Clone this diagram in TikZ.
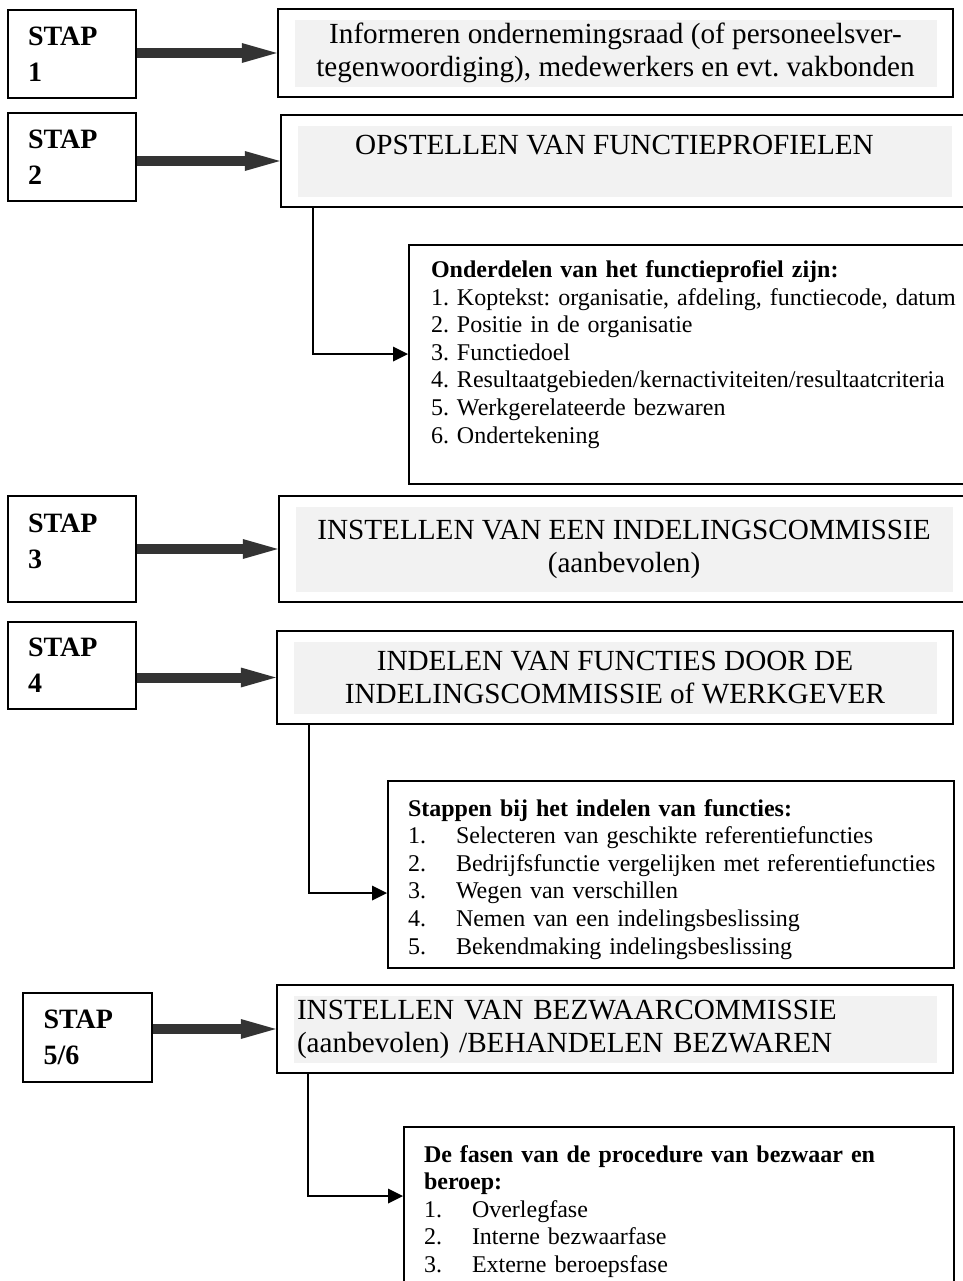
\documentclass[tikz,border=0pt]{standalone}
\usepackage{fontspec}
\setmainfont{Liberation Serif}
\usetikzlibrary{arrows.meta}
\definecolor{panel}{HTML}{F2F2F2}
\newcommand\punt[2]{\mbox{\makebox[24pt][l]{#1}#2}}
\frenchspacing

\begin{document}
\begin{tikzpicture}[x=0.5pt,y=-0.5pt,
  stap/.style={draw,line width=1pt,minimum width=64pt,text width=44pt,inner sep=0pt,
    align=left,font=\fontsize{14}{18}\selectfont\bfseries},
  fase/.style={draw,line width=1.2pt,inner sep=0pt,align=center,
    font=\fontsize{14.6}{16.5}\selectfont,
    path picture={\fill[panel] ([xshift=8.5pt,yshift=-5.5pt]path picture bounding box.north west)
      rectangle ([xshift=-8pt,yshift=5pt]path picture bounding box.south east);}},
  detail/.style={draw,line width=1pt,anchor=north west,align=left,
    inner ysep=9.25pt,text height=8.25pt,font=\fontsize{12}{13.8}\selectfont},
  push/.style={draw=black!80,line width=5pt,
    -{Triangle[length=17.5pt,width=10pt,line width=0pt]}},
  link/.style={draw,line width=1pt,-{Triangle[length=7.5pt,width=7.5pt,line width=0pt]}}
]
  \useasboundingbox (0,0) rectangle (963,1281);
  \clip (0,0) rectangle (963,1281);

  \node[stap,minimum height=44pt] (s1) at (72,54) {STAP\\1};
  \node[stap,minimum height=44pt] (s2) at (72,157) {STAP\\2};
  \node[stap,minimum height=53pt,text depth=26pt] (s3) at (72,549) {STAP\\3};
  \node[stap,minimum height=43.5pt] (s4) at (72,665.5) {STAP\\4};
  \node[stap,minimum width=64.5pt,minimum height=44.5pt] (s5) at (87.5,1037.5) {STAP\\5/6};

  \node[fase,minimum width=337.5pt,minimum height=44pt] (b1) at (615.5,53)
    {Informeren ondernemingsraad (of personeelsver-\\tegenwoordiging), medewerkers en evt. vakbonden};
  \node[fase,minimum width=343.5pt,minimum height=46pt] (b2) at (624.5,161)
    {\hspace*{-10pt}OPSTELLEN VAN FUNCTIEPROFIELEN\\~};
  \node[fase,minimum width=345pt,minimum height=53pt] (b3) at (624,549)
    {INSTELLEN VAN EEN INDELINGSCOMMISSIE\\(aanbevolen)};
  \node[fase,minimum width=338pt,minimum height=46.5pt] (b4) at (615,677.5)
    {INDELEN VAN FUNCTIES DOOR DE\\INDELINGSCOMMISSIE of WERKGEVER};
  \node[fase,minimum width=338pt,minimum height=44pt,text width=318pt,align=left] (b5) at (615,1029)
    {INSTELLEN VAN BEZWAARCOMMISSIE\\(aanbevolen) /BEHANDELEN BEZWAREN};

  \node[detail,inner xsep=11pt,inner ysep=8pt,text width=270pt,text depth=95.25pt] (d1) at (408,244)
    {\textbf{Onderdelen van het functieprofiel zijn:}\\
     1. Koptekst: organisatie, afdeling, functiecode, datum\\
     2. Positie in de organisatie\\
     3. Functiedoel\\
     4. Resultaatgebieden/kernactiviteiten/resultaatcriteria\\
     5. Werkgerelateerde bezwaren\\
     6. Ondertekening};
  \node[detail,inner xsep=10pt,text width=263pt,text depth=66.75pt] (d2) at (387,780)
    {\textbf{Stappen bij het indelen van functies:}\\
     \punt{1.}{Selecteren van geschikte referentiefuncties}\\
     \punt{2.}{Bedrijfsfunctie vergelijken met referentiefuncties}\\
     \punt{3.}{Wegen van verschillen}\\
     \punt{4.}{Nemen van een indelingsbeslissing}\\
     \punt{5.}{Bekendmaking indelingsbeslissing}};
  \node[detail,inner xsep=10pt,text width=255pt,text depth=70pt] (d3) at (403,1126)
    {\textbf{De fasen van de procedure van bezwaar en}\\
     \textbf{beroep:}\\
     \punt{1.}{Overlegfase}\\
     \punt{2.}{Interne bezwaarfase}\\
     \punt{3.}{Externe beroepsfase}};

  \draw[push] (s1.east |- b1.west) -- (b1.west);
  \draw[push] (s2.east |- b2.west) -- (b2.west);
  \draw[push] (s3.east |- b3.west) -- (b3.west);
  \draw[push] (s4.east |- b4.west) -- (b4.west);
  \draw[push] (s5.east |- b5.west) -- (b5.west);

  \coordinate (k1) at (313,354);
  \coordinate (k2) at (309,893);
  \coordinate (k3) at (308,1196);
  \draw[link] (b2.south -| k1) -- (k1) -- (d1.west |- k1);
  \draw[link] (b4.south -| k2) -- (k2) -- (d2.west |- k2);
  \draw[link] (b5.south -| k3) -- (k3) -- (d3.west |- k3);
\end{tikzpicture}
\end{document}
